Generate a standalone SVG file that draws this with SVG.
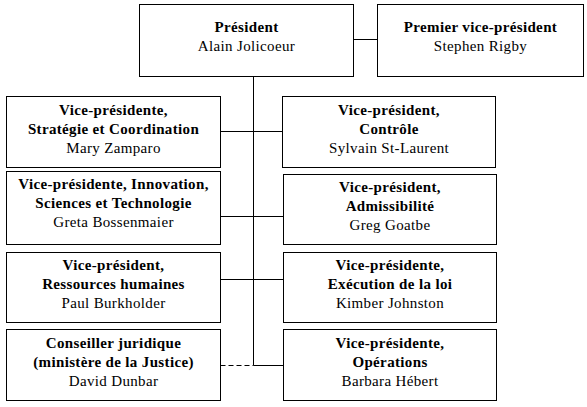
<svg xmlns="http://www.w3.org/2000/svg" width="587" height="407" viewBox="0 0 587 407">
<style>
rect{fill:#fff;stroke:#000;stroke-width:1}
text{font-family:"Liberation Serif","Times New Roman",serif;font-size:15px;text-anchor:middle;fill:#000;letter-spacing:0.35px}
.b{font-weight:bold}
.c line{stroke:#000;stroke-width:1}
.d{stroke-dasharray:5 3}
</style>
<rect x="0" y="0" width="587" height="407" style="stroke:none"/>
<g class="c" id="connectors">
<line x1="253.5" y1="76.5" x2="253.5" y2="365.5"/>
<line x1="353.5" y1="39.5" x2="377.5" y2="39.5"/>
<line x1="220.5" y1="131.5" x2="282.5" y2="131.5"/>
<line x1="220.5" y1="216.5" x2="283.5" y2="216.5"/>
<line x1="220.5" y1="279.5" x2="283.5" y2="279.5"/>
<line x1="253.5" y1="365.5" x2="283.5" y2="365.5"/>
<line class="d" x1="220.5" y1="365.5" x2="253.5" y2="365.5"/>
</g>
<g id="president">
<rect x="139.5" y="4.5" width="214" height="72"/>
<text x="246.5" y="32" class="b">Président</text>
<text x="246.5" y="51">Alain Jolicoeur</text>
</g>
<g id="premier-vp">
<rect x="377.5" y="4.5" width="206" height="72"/>
<text x="480.5" y="32" class="b">Premier vice-président</text>
<text x="480.5" y="51">Stephen Rigby</text>
</g>
<g id="vp-strategie">
<rect x="6.5" y="96.5" width="214" height="71"/>
<text x="113.5" y="115" class="b">Vice-présidente,</text>
<text x="113.5" y="134" class="b">Stratégie et Coordination</text>
<text x="113.5" y="153">Mary Zamparo</text>
</g>
<g id="vp-controle">
<rect x="282.5" y="96.5" width="213" height="71"/>
<text x="389" y="115" class="b">Vice-président,</text>
<text x="389" y="134" class="b">Contrôle</text>
<text x="389" y="153">Sylvain St-Laurent</text>
</g>
<g id="vp-innovation">
<rect x="6.5" y="171.5" width="214" height="73"/>
<text x="113.5" y="189" class="b">Vice-présidente, Innovation,</text>
<text x="113.5" y="208" class="b">Sciences et Technologie</text>
<text x="113.5" y="227">Greta Bossenmaier</text>
</g>
<g id="vp-admissibilite">
<rect x="283.5" y="174.5" width="213" height="70"/>
<text x="390" y="192" class="b">Vice-président,</text>
<text x="390" y="211" class="b">Admissibilité</text>
<text x="390" y="230">Greg Goatbe</text>
</g>
<g id="vp-rh">
<rect x="6.5" y="252.5" width="214" height="70"/>
<text x="113.5" y="270" class="b">Vice-président,</text>
<text x="113.5" y="289" class="b">Ressources humaines</text>
<text x="113.5" y="308">Paul Burkholder</text>
</g>
<g id="vp-execution">
<rect x="283.5" y="252.5" width="213" height="70"/>
<text x="390" y="270" class="b">Vice-présidente,</text>
<text x="390" y="289" class="b">Exécution de la loi</text>
<text x="390" y="308">Kimber Johnston</text>
</g>
<g id="conseiller">
<rect x="6.5" y="329.5" width="214" height="71"/>
<text x="113.5" y="348" class="b">Conseiller juridique</text>
<text x="113.5" y="367" class="b">(ministère de la Justice)</text>
<text x="113.5" y="386">David Dunbar</text>
</g>
<g id="vp-operations">
<rect x="283.5" y="329.5" width="213" height="71"/>
<text x="390" y="348" class="b">Vice-présidente,</text>
<text x="390" y="367" class="b">Opérations</text>
<text x="390" y="386">Barbara Hébert</text>
</g>
</svg>
